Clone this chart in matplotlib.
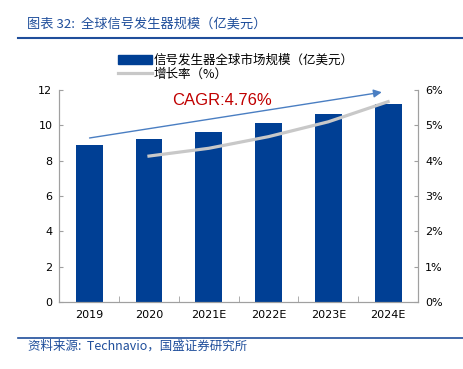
import matplotlib.pyplot as plt
from matplotlib.patches import Patch
from matplotlib.lines import Line2D

plt.rcParams['font.family'] = ['DejaVu Sans', 'Noto Sans CJK SC']

years = ['2019', '2020', '2021E', '2022E', '2023E', '2024E']
market = [8.87, 9.24, 9.64, 10.11, 10.62, 11.2]
growth_years = [1, 2, 3, 4, 5]
growth = [4.13, 4.35, 4.68, 5.10, 5.67]

bar_color = '#003F94'
line_color = '#C8C8C8'
dark_blue = '#1F4E9B'
cjk = ['Noto Sans CJK SC', 'DejaVu Sans']

fig = plt.figure(figsize=(4.63, 3.69), dpi=100)
ax = fig.add_axes([59.3/463, 1-302/369, (418-59.3)/463, 212/369])
ax2 = ax.twinx()

x = list(range(len(years)))
ax.bar(x, market, width=0.45, color=bar_color, zorder=2)
ax2.plot(growth_years, growth, color=line_color, lw=2.3, zorder=3)

ax.set_xlim(-0.5, 5.5)
ax.set_ylim(0, 12)
ax.set_yticks(range(0, 13, 2))
ax2.set_ylim(0, 6)
ax2.set_yticks(range(0, 7))
ax2.set_yticklabels([f'{v}%' for v in range(0, 7)])

ax.set_xticks(x)
ax.set_xticklabels(years)
ax.set_xticks([i + 0.5 for i in range(-1, 6)], minor=True)
ax.tick_params(axis='x', which='major', length=0, labelsize=8, pad=6)
ax.tick_params(axis='x', which='minor', length=4, direction='in', color='#A0A0A0')
ax.tick_params(axis='y', length=3, direction='in', color='#A0A0A0', labelsize=8, pad=5)
ax2.tick_params(axis='y', length=3, direction='in', color='#A0A0A0', labelsize=8, pad=5)

for a in (ax, ax2):
    a.spines['top'].set_visible(False)
    for s in ('left', 'right', 'bottom'):
        a.spines[s].set_color('#A0A0A0')
        a.spines[s].set_linewidth(0.8)

# CAGR arrow across the chart
ax.annotate('', xy=(4.94, 11.9), xytext=(-0.04, 9.26),
            arrowprops=dict(arrowstyle='-|>', color='#4A7EC2', lw=1.0,
                            mutation_scale=12), zorder=4)
ax.text(2.22, 11.43, 'CAGR:4.76%', color='#C00000', fontsize=12,
        family='Liberation Sans', ha='center', va='center', zorder=5)

handles = [Patch(color=bar_color), Line2D([0], [0], color=line_color, lw=2.3)]
labels = ['信号发生器全球市场规模（亿美元）', '增长率（%）']
leg = fig.legend(handles, labels, loc='upper left',
                 bbox_to_anchor=(109/463, 1-45/369), frameon=False,
                 prop={'family': cjk, 'size': 9}, handlelength=2.75,
                 handleheight=0.65, labelspacing=0.05, handletextpad=0.1,
                 borderpad=0.2)

fig.text(27/463, 1-24/369, '图表 32:  全球信号发生器规模（亿美元）', color=dark_blue,
         fontsize=9.5, style='italic', family=cjk, va='center')
fig.add_artist(Line2D([18/463, 1], [1-38/369, 1-38/369], color=dark_blue, lw=1.5))
fig.add_artist(Line2D([18/463, 1], [1-337.5/369, 1-337.5/369], color=dark_blue, lw=1.2))
fig.text(28/463, 1-346/369, '资料来源:  Technavio，国盛证券研究所', color=dark_blue,
         fontsize=9, style='italic', family=cjk, va='center')

fig.savefig('out.png', dpi=100)
